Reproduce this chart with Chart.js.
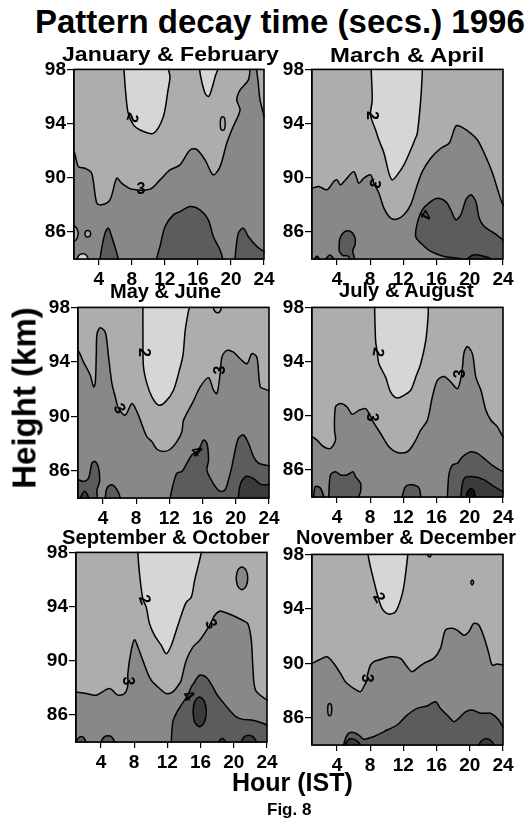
<!DOCTYPE html>
<html>
<head>
<meta charset="utf-8">
<script src="https://cdn.jsdelivr.net/npm/chart.js@4.4.0/dist/chart.umd.min.js"></script>
<style>
body{margin:0;width:528px;height:821px;position:relative;overflow:hidden;background:#fff;
  font-family:"Liberation Sans",Arial,Helvetica,sans-serif;font-weight:bold;color:#000}
canvas{position:absolute}
.t{position:absolute;white-space:nowrap;line-height:1;z-index:2}
.pt{font-size:20px;transform-origin:0 0}
</style>
</head>
<body>
<div class="t" style="left:35px;top:5px;font-size:33px">Pattern decay time (secs.) 1996</div>
<div class="t pt" data-w="217" style="left:62px;top:44px">January &amp; February</div>
<div class="t pt" data-w="154" style="left:330px;top:44.5px">March &amp; April</div>
<div class="t pt" data-w="111" style="left:110px;top:281px">May &amp; June</div>
<div class="t pt" data-w="135" style="left:339px;top:280px">July &amp; August</div>
<div class="t pt" data-w="208" style="left:62px;top:527px">September &amp; October</div>
<div class="t pt" data-w="220" style="left:296px;top:527px">November &amp; December</div>
<div class="t" style="left:23.6px;top:397.5px;font-size:33px;transform:translate(-50%,-50%) rotate(-90deg)">Height (km)</div>
<div class="t" style="left:232px;top:770px;font-size:25px">Hour (IST)</div>
<div class="t" style="left:267px;top:800.6px;font-size:17px">Fig. 8</div>
<script>
// axis ticks
var hourTicks = [4, 8, 12, 16, 20, 24];
var heightTicks = [86, 90, 94, 98];

// shades for the contour bands (secs)
var L2 = '#d6d6d6', L3 = '#adadad', L4 = '#888888', L5 = '#5c5c5c', L6 = '#3b3b3b', L7 = '#121212';

// ---- January & February: [hour, km] along each contour ----
var jf_c2 = [[7.05,98.8],[7.05,98],[7.3,95.98],[7.57,94.76],[8.2,93.9],[9.0,93.53],[10.6,93.28],[11.81,94.51],[12.38,96.47],[12.62,97.43],[12.45,98],[12.45,98.8]];
var jf_c2b = [[16.2,98.8],[16.2,98],[16.5,97],[16.9,96.2],[17.3,96.0],[17.7,96.6],[18.1,97.5],[18.4,98],[18.4,98.8]];
var jf_c3 = [[0.5,91.93],[1.0,91.93],[1.52,90.82],[2.33,90.7],[3.14,90.34],[3.75,88.13],[4.35,88.0],[5.36,88.37],[6.17,89.97],[6.77,89.6],[7.99,89.16],[10.2,89.16],[11.41,89.84],[12.62,90.58],[13.83,90.95],[15.04,92.05],[15.85,92.1],[16.86,91.32],[17.86,90.21],[18.68,90.82],[19.49,92.55],[20.25,93.75],[21.1,95.0],[20.7,95.74],[21.1,96.47],[22.1,97.21],[22.3,98],[22.3,98.8],[23.12,98.8],[23.12,98],[23.31,96.97],[23.52,95.74],[23.92,94.76],[24.0,94.5],[24.5,94.2],[24.5,83.3],[0.5,83.3]];
var jf_c4a = [[11.01,83.3],[11.01,84],[11.41,84.93],[12.02,86.4],[13.02,87.26],[13.83,87.5],[15.04,87.87],[16.25,87.63],[17.26,86.89],[17.86,85.66],[18.68,84.67],[19.0,84],[19.0,83.3]];
var jf_c4b = [[4.15,83.3],[4.15,84],[4.75,85.91],[5.15,86.28],[5.56,85.66],[6.36,84],[6.36,83.3]];
var jf_c4c = [[20.49,83.3],[20.49,84],[20.89,85.91],[21.5,86.28],[22.1,85.66],[23.12,84.93],[24.0,84.54],[24.5,84.4],[24.5,83.3]];
var jf_edge = [[0.5,86.45],[1.0,86.45],[1.35,86.25],[1.52,85.9],[1.35,85.5],[1.0,85.3],[0.5,85.3]];
var jf_dot = [[2.3,85.86],[2.45,86.06],[2.66,86.1],[2.87,86.06],[3.02,85.86],[2.87,85.66],[2.66,85.62],[2.45,85.66],[2.3,85.86]];
var jf_low = [[1.4,83.3],[1.4,84],[1.6,84.28],[2.05,84.38],[2.5,84.28],[2.7,84],[2.7,83.3]];
var jf_ring = [[18.7,94],[18.78,94.4],[19.0,94.5],[19.22,94.4],[19.3,94],[19.22,93.6],[19.0,93.5],[18.78,93.6],[18.7,94]];
var jf_lab = [['2',8.0,94.45,110],['3',9.1,89.15,0]];

// ---- March & April ----
var ma_c2 = [[8.13,98.8],[8.13,98],[8.25,95.74],[8.05,94.63],[8.66,93.53],[9.06,92.79],[9.67,91.81],[10.26,90.34],[10.66,89.84],[11.27,90.21],[12.07,90.95],[12.88,92.05],[13.37,92.79],[13.68,93.28],[14.09,95.74],[14.28,97.7],[14.28,98],[14.28,98.8]];
var ma_c3 = [[0.5,89.23],[1.0,89.23],[1.81,89.35],[2.81,89.11],[3.62,89.72],[4.02,89.84],[4.43,89.47],[5.03,89.84],[6.04,90.45],[6.64,89.6],[7.24,89.97],[8.05,90.21],[8.45,89.6],[9.06,88.86],[9.66,87.76],[10.47,87.02],[11.27,86.95],[12.07,87.26],[12.88,88.0],[13.49,89.11],[14.28,90.45],[15.3,91.44],[16.51,92.18],[17.51,92.55],[18.32,93.82],[18.92,93.77],[20.13,93.28],[20.93,92.79],[21.74,91.81],[22.74,90.34],[23.55,88.74],[24.0,88.0],[24.5,87.7],[24.5,83.3],[0.5,83.3]];
var ma_c4 = [[18.92,83.3],[18.92,84],[18.32,84.07],[16.91,84.19],[15.3,84.56],[14.09,85.18],[13.49,85.66],[13.68,86.65],[14.28,87.63],[15.3,88.24],[16.1,88.49],[17.11,88.24],[17.71,87.63],[18.32,86.89],[18.92,87.26],[19.53,88.37],[20.13,88.74],[20.73,88.24],[21.13,87.02],[21.74,86.4],[22.94,85.91],[24.0,85.42],[24.5,85.3],[24.5,83.3]];
var ma_c4b = [[4.25,84.6],[4.35,85.5],[4.9,86.0],[5.6,86.05],[6.1,85.7],[6.2,85.1],[5.9,84.6],[6.1,84.1],[6.3,83.3],[5.7,83.3],[5.4,84.2],[4.7,84.25],[4.25,84.6]];
var ma_b1 = [[1.35,83.3],[1.35,84],[1.6,84.2],[1.85,84],[1.85,83.3]];
var ma_b2 = [[2.7,83.3],[2.7,84],[3.15,84.3],[3.6,84],[3.6,83.3]];
var ma_c5 = [[19.72,83.3],[19.72,84],[20.53,84.31],[21.74,84.19],[22.55,84],[22.55,83.3]];
var ma_lab = [['2',8.1,94.6,90],['3',8.5,89.6,110],['4',14.6,87.3,120]];

// ---- May & June ----
var mj_c2 = [[8.82,98.8],[8.82,98],[8.82,95.57],[8.89,93.62],[9.3,92.4],[9.9,91.43],[10.7,90.82],[11.51,91.06],[12.5,91.92],[13.31,93.62],[13.64,94.47],[13.91,96.3],[14.31,97.76],[14.43,98],[14.43,98.8]];
var mj_top = [[17.3,98.8],[17.3,98],[17.5,97.7],[17.8,97.6],[18.1,97.7],[18.26,98],[18.26,98.8]];
var mj_c3 = [[0.5,94.84],[1.0,94.84],[1.67,93.98],[2.48,93.01],[2.88,92.16],[3.08,92.43],[3.2,94.5],[3.29,96.06],[3.68,96.5],[4.29,96.17],[4.68,94.35],[5.09,92.4],[5.49,91.43],[5.89,90.58],[6.69,90.09],[7.5,90.94],[8.2,90.2],[8.5,89.72],[9.3,88.5],[9.9,88.14],[10.5,87.58],[11.3,87.41],[12.11,87.58],[12.91,88.14],[13.51,88.87],[13.71,89.72],[14.8,91.0],[15.72,92.16],[16.72,92.84],[17.32,91.92],[17.73,91.67],[18.12,93.13],[18.33,94.35],[18.93,94.84],[19.72,94.71],[20.53,94.23],[21.34,93.86],[21.94,94.6],[22.54,94.35],[22.94,92.16],[23.5,92.0],[24.0,91.9],[24.5,91.9],[24.5,83.3],[0.5,83.3]];
var mj_c4a = [[0.5,85.34],[1.0,85.34],[1.67,85.22],[2.28,85.47],[2.68,86.56],[3.08,86.68],[3.48,86.2],[3.6,85.22],[3.29,84.61],[3.32,84.0],[3.32,83.3],[0.5,83.3]];
var mj_c4b = [[4.29,83.3],[4.29,84],[4.49,84.73],[5.09,84.98],[5.69,84.61],[6.09,84],[6.09,83.3]];
var mj_c4c = [[12.11,83.3],[12.11,84],[12.5,85.1],[12.91,85.83],[13.51,85.95],[14.12,86.56],[14.72,87.17],[15.32,87.41],[15.72,87.77],[16.11,88.26],[16.52,88.02],[16.72,86.8],[16.52,86.07],[16.92,85.47],[17.52,84.85],[18.12,84.49],[18.72,84.61],[19.12,85.34],[19.53,86.31],[19.93,87.53],[20.33,88.39],[20.93,88.63],[21.53,88.02],[22.13,87.04],[22.73,86.56],[23.42,86.44],[24.0,86.36],[24.5,86.3],[24.5,83.3]];
var mj_c5a = [[1.3,83.3],[1.3,84],[1.8,84.5],[2.3,84],[2.3,83.3]];
var mj_c5b = [[20.3,83.3],[20.3,84],[20.6,85.1],[21.3,85.6],[22.2,85.4],[23.0,85.0],[24.5,84.9],[24.5,83.3]];
var mj_lab = [['2',8.82,94.7,90],['3',5.95,90.55,60],['3',18.2,93.4,-90],['4',15.2,87.4,45]];

// ---- July & August ----
var ja_c2 = [[8.54,98.8],[8.54,98],[8.66,95.55],[8.85,94.69],[9.06,93.84],[9.86,92.85],[10.47,91.75],[11.27,91.31],[12.07,91.51],[12.88,91.88],[13.49,92.85],[14.09,93.84],[14.7,95.55],[14.97,97.26],[15.01,98],[15.01,98.8]];
var ja_c3 = [[0.5,88.45],[1.0,88.45],[1.6,88.2],[2.41,87.71],[3.22,87.59],[3.83,88.2],[3.71,88.93],[3.83,90.65],[4.43,90.9],[5.23,90.65],[5.83,90.11],[6.64,90.4],[7.45,90.53],[8.0,90.0],[8.37,89.54],[9.26,88.69],[10.26,87.71],[11.27,87.29],[12.47,87.34],[13.28,87.96],[14.09,88.93],[14.89,89.67],[15.49,91.38],[16.1,92.61],[16.9,92.9],[17.71,92.49],[18.51,92.0],[18.92,92.74],[19.12,93.59],[19.32,94.69],[19.72,95.11],[20.32,94.57],[20.73,92.85],[21.34,91.88],[21.94,90.4],[22.55,89.67],[23.34,89.18],[24.0,88.44],[24.5,88.3],[24.5,83.3],[0.5,83.3]];
var ja_c4a = [[1.2,83.3],[1.2,84],[1.4,84.78],[2.0,84.66],[2.41,84],[2.41,83.3]];
var ja_c4b = [[3.02,83.3],[3.02,84],[3.22,85.63],[3.83,85.87],[4.43,85.63],[5.23,85.63],[5.95,85.87],[6.24,85.5],[6.85,85.01],[6.85,84.4],[6.64,84],[6.64,83.3]];
var ja_c4c = [[11.87,83.3],[11.87,84],[12.28,84.78],[13.08,84.9],[13.89,84.66],[14.09,84],[14.09,83.3]];
var ja_c4d = [[17.3,83.3],[17.3,84],[17.51,85.75],[17.91,86.36],[18.51,86.49],[19.12,86.97],[20.13,87.34],[20.93,87.22],[21.94,86.73],[22.94,86.24],[24.0,85.87],[24.5,85.8],[24.5,83.3]];
var ja_c5 = [[18.92,83.3],[18.92,84],[19.32,85.38],[20.53,85.5],[21.74,85.26],[22.94,84.76],[24.0,84.4],[24.5,84.3],[24.5,83.3]];
var ja_c6 = [[19.6,83.3],[19.6,84.1],[19.85,84.5],[20.15,84.6],[20.45,84.5],[20.65,84.1],[20.65,83.3]];
var ja_lab = [['2',8.9,94.7,100],['3',8.2,89.9,90],['3',18.95,93.1,-90]];

// ---- September & October ----
var so_c2 = [[8.45,98.8],[8.45,98],[8.65,96.41],[9.05,94.57],[9.46,93.95],[9.86,92.73],[10.46,91.87],[11.27,91.13],[11.87,90.52],[12.47,91.13],[13.07,92.24],[13.87,93.71],[14.28,94.32],[14.88,94.69],[15.28,95.92],[15.67,96.9],[16.08,98],[16.08,98.8]];
var so_c3 = [[0.5,87.7],[1.0,87.7],[2.23,87.58],[3.43,87.46],[5.04,87.95],[6.04,87.46],[6.84,87.58],[7.24,88.19],[7.24,89.05],[7.65,90.77],[8.05,91.55],[8.45,91.01],[9.05,90.03],[9.65,89.05],[10.06,88.56],[11.06,87.95],[11.87,87.58],[12.66,87.7],[13.47,88.32],[13.67,88.56],[14.28,90.03],[15.07,91.01],[15.88,91.5],[17.08,92.61],[17.69,93.34],[18.29,93.66],[18.89,93.58],[19.89,93.34],[21.1,92.97],[21.7,92.73],[22.11,91.5],[22.3,89.54],[22.63,87.82],[24.0,87.1],[24.5,87.0],[24.5,83.3],[0.5,83.3]];
var so_e3 = [[20.28,96.09],[20.48,96.68],[20.98,96.93],[21.48,96.68],[21.68,96.09],[21.48,95.5],[20.98,95.25],[20.48,95.5],[20.28,96.09]];
var so_c4 = [[12.47,83.3],[12.47,84],[12.66,85.49],[13.07,86.11],[13.67,86.72],[14.47,87.46],[14.88,88.07],[15.28,88.43],[15.88,88.93],[16.69,88.78],[17.48,88.07],[17.89,87.58],[18.49,87.09],[19.49,86.35],[20.3,85.86],[21.1,85.67],[22.3,85.61],[23.59,85.37],[24.0,85.25],[24.5,85.2],[24.5,83.3]];
var so_c5 = [[15.08,86.23],[15.3,87.0],[15.88,87.33],[16.46,87.0],[16.68,86.23],[16.46,85.46],[15.88,85.13],[15.3,85.46],[15.08,86.23]];
var so_b1 = [[1.0,83.3],[1.0,84],[1.3,84.3],[1.63,84.4],[1.96,84.3],[2.16,84],[2.16,83.3]];
var so_b2 = [[4.04,83.3],[4.04,84],[4.4,84.38],[4.84,84.46],[5.28,84.38],[5.64,84],[5.64,83.3]];
var so_b3 = [[20.9,83.3],[20.9,84],[21.3,84.4],[21.8,84.5],[22.3,84.4],[22.7,84],[22.7,83.3]];
var so_b4 = [[18.2,83.3],[18.2,84],[18.6,84.25],[19.0,84],[19.0,83.3]];
var so_lab = [['2',9.2,94.5,70],['3',7.25,88.5,90],['3',17.2,92.7,60],['4',14.5,87.4,50]];

// ---- November & December ----
var nd_c2 = [[7.75,98.8],[7.75,98],[8.04,97.09],[8.43,96.11],[8.83,95.14],[9.43,94.04],[10.24,93.62],[11.05,93.79],[11.65,94.64],[12.05,95.62],[12.37,97.09],[12.53,98],[12.53,98.8]];
var nd_top = [[14.9,98.8],[14.9,98],[15.14,97.8],[15.38,98],[15.38,98.8]];
var nd_ring = [[20.1,95.94],[20.28,96.12],[20.46,95.94],[20.28,95.76],[20.1,95.94]];
var nd_c3 = [[0.5,90.0],[1.0,90.0],[1.81,90.24],[2.81,90.48],[3.61,90.0],[4.42,89.26],[5.02,88.65],[6.02,88.16],[6.83,87.91],[7.23,88.28],[7.63,88.77],[7.63,89.01],[8.04,89.87],[8.43,90.11],[9.04,90.24],[10.45,90.48],[11.65,90.36],[12.45,89.75],[13.05,89.38],[13.65,89.63],[14.46,90.0],[15.66,90.36],[16.47,91.1],[17.07,92.44],[17.87,92.57],[18.47,92.44],[19.28,92.07],[19.88,92.32],[20.48,92.93],[21.08,92.81],[21.69,91.95],[22.29,90.73],[22.69,89.87],[23.29,89.95],[24.0,89.87],[24.5,89.87],[24.5,83.3],[0.5,83.3]];
var nd_e4 = [[2.88,86.6],[2.95,86.95],[3.13,87.05],[3.31,86.95],[3.38,86.6],[3.31,86.25],[3.13,86.15],[2.95,86.25],[2.88,86.6]];
var nd_c4 = [[4.82,83.3],[4.82,84],[5.22,84.73],[5.82,84.93],[6.63,84.73],[7.23,84.42],[7.83,84.49],[8.83,84.73],[10.04,85.1],[11.24,85.47],[12.45,86.2],[13.65,86.69],[14.86,86.86],[15.87,87.18],[16.47,86.69],[17.47,86.08],[18.07,85.71],[18.67,85.96],[19.48,86.44],[20.28,86.57],[21.29,86.33],[22.49,86.33],[23.49,85.84],[24.0,85.34],[24.5,85.2],[24.5,83.3]];
var nd_c5a = [[5.0,83.3],[5.0,84],[5.4,84.4],[5.9,84.45],[6.4,84.3],[6.8,84],[6.8,83.3]];
var nd_c5b = [[21.1,83.3],[21.1,84],[21.5,84.35],[22.0,84.45],[22.5,84.35],[22.9,84],[22.9,83.3]];
var nd_lab = [['2',9.0,94.8,60],['3',7.6,88.9,90]];

// panel boxes = plot area in page pixels [left, top, right, bottom]
var panels = [
  {box:[74,69,264,259], labels:jf_lab, layers:[[jf_c3,L4],[jf_edge,L3],[jf_dot,L3],[jf_c4a,L5],[jf_c4b,L5],[jf_c4c,L5],[jf_low,L2],[jf_c2,L2],[jf_c2b,L2],[jf_ring,L3]]},
  {box:[312,69,503,259], labels:ma_lab, layers:[[ma_c3,L4],[ma_c4,L5],[ma_c4b,L5],[ma_b1,L5],[ma_b2,L5],[ma_c5,L6],[ma_c2,L2]]},
  {box:[78,307,269,498], labels:mj_lab, layers:[[mj_c3,L4],[mj_c4a,L5],[mj_c4b,L5],[mj_c4c,L5],[mj_c5a,L6],[mj_c5b,L6],[mj_c2,L2],[mj_top,L3]]},
  {box:[312,307,503,497], labels:ja_lab, layers:[[ja_c3,L4],[ja_c4a,L5],[ja_c4b,L5],[ja_c4c,L5],[ja_c4d,L5],[ja_c5,L6],[ja_c6,L7],[ja_c2,L2]]},
  {box:[76,552,267,742], labels:so_lab, layers:[[so_c3,L4],[so_e3,L4],[so_c4,L5],[so_b1,L5],[so_b2,L5],[so_c5,L6],[so_b3,L6],[so_b4,L6],[so_c2,L2]]},
  {box:[312,554,503,745], labels:nd_lab, layers:[[nd_c3,L4],[nd_e4,L4],[nd_c4,L5],[nd_c5a,L6],[nd_c5b,L6],[nd_c2,L2],[nd_top,L3],[nd_ring,L3]]}
];

Chart.defaults.font.family = '"Liberation Sans", Arial, Helvetica, sans-serif';
Chart.defaults.color = '#000';

// grey background of the plot, frame on top, and the contour numbers
var panelDeco = {
  id: 'panelDeco',
  beforeDatasetsDraw: function(chart) {
    var a = chart.chartArea, ctx = chart.ctx;
    ctx.save();
    ctx.fillStyle = L3;
    ctx.fillRect(a.left, a.top, a.right - a.left, a.bottom - a.top);
    ctx.restore();
  },
  afterDatasetsDraw: function(chart, args, opts) {
    var a = chart.chartArea, ctx = chart.ctx;
    ctx.save();
    ctx.strokeStyle = '#000';
    ctx.lineWidth = 1.6;
    ctx.strokeRect(a.left, a.top, a.right - a.left, a.bottom - a.top);
    ctx.font = 'bold 16px "Liberation Sans", Arial, sans-serif';
    ctx.fillStyle = '#000';
    ctx.textAlign = 'center';
    ctx.textBaseline = 'middle';
    (opts.items || []).forEach(function(l) {
      var px = chart.scales.x.getPixelForValue(l[1]);
      var py = chart.scales.y.getPixelForValue(l[2]);
      ctx.save();
      ctx.translate(px, py);
      ctx.rotate(l[3] * Math.PI / 180);
      ctx.fillText(l[0], 0, 0);
      ctx.restore();
    });
    ctx.restore();
  }
};

var AXW = 40, TOPPAD = 12, RPAD = 14, AXH = 32;

panels.forEach(function(p) {
  var w = p.box[2] - p.box[0], h = p.box[3] - p.box[1];
  var cv = document.createElement('canvas');
  cv.width = w + AXW + RPAD;
  cv.height = h + TOPPAD + AXH;
  cv.style.left = (p.box[0] - AXW) + 'px';
  cv.style.top = (p.box[1] - TOPPAD) + 'px';
  document.body.appendChild(cv);

  // first layer is painted first, so reverse for Chart.js (index 0 is on top)
  var sets = p.layers.map(function(layer) {
    return {
      data: layer[0].map(function(pt) { return {x: pt[0], y: pt[1]}; }),
      fill: 'shape',
      backgroundColor: layer[1],
      borderColor: '#000',
      borderWidth: 1.5,
      pointRadius: 0,
      tension: 0.3
    };
  }).reverse();

  new Chart(cv, {
    type: 'line',
    data: {datasets: sets},
    plugins: [panelDeco],
    options: {
      responsive: false,
      animation: false,
      devicePixelRatio: 1,
      layout: {padding: {top: TOPPAD, right: RPAD, left: 0, bottom: 0}},
      elements: {line: {capBezierPoints: false}},
      plugins: {legend: {display: false}, tooltip: {enabled: false}, panelDeco: {items: p.labels}},
      scales: {
        x: {
          type: 'linear', bounds: 'data',
          afterDataLimits: function(s) { s.min = 1; s.max = 24; },
          afterBuildTicks: function(s) { s.ticks = hourTicks.map(function(v) { return {value: v}; }); },
          afterFit: function(s) { s.height = AXH; },
          grid: {display: true, drawOnChartArea: false, drawTicks: true, tickLength: 6, color: '#000', lineWidth: 1.2},
          border: {display: true, color: '#000', width: 1.6},
          ticks: {font: {size: 19, weight: 'bold'}, color: '#000', padding: 3, maxRotation: 0, autoSkip: false}
        },
        y: {
          type: 'linear', bounds: 'data',
          afterDataLimits: function(s) { s.min = 84; s.max = 98; },
          afterBuildTicks: function(s) { s.ticks = heightTicks.map(function(v) { return {value: v}; }); },
          afterFit: function(s) { s.width = AXW; },
          grid: {display: true, drawOnChartArea: false, drawTicks: true, tickLength: 7, color: '#000', lineWidth: 1.2},
          border: {display: true, color: '#000', width: 1.6},
          ticks: {font: {size: 19, weight: 'bold'}, color: '#000', padding: 1, autoSkip: false}
        }
      }
    }
  });
});

// stretch the panel titles to the widths seen in the figure
document.querySelectorAll('.pt').forEach(function(el) {
  var nat = el.offsetWidth;
  el.style.transform = 'scaleX(' + (Number(el.dataset.w) / nat) + ')';
});
</script>
</body>
</html>
